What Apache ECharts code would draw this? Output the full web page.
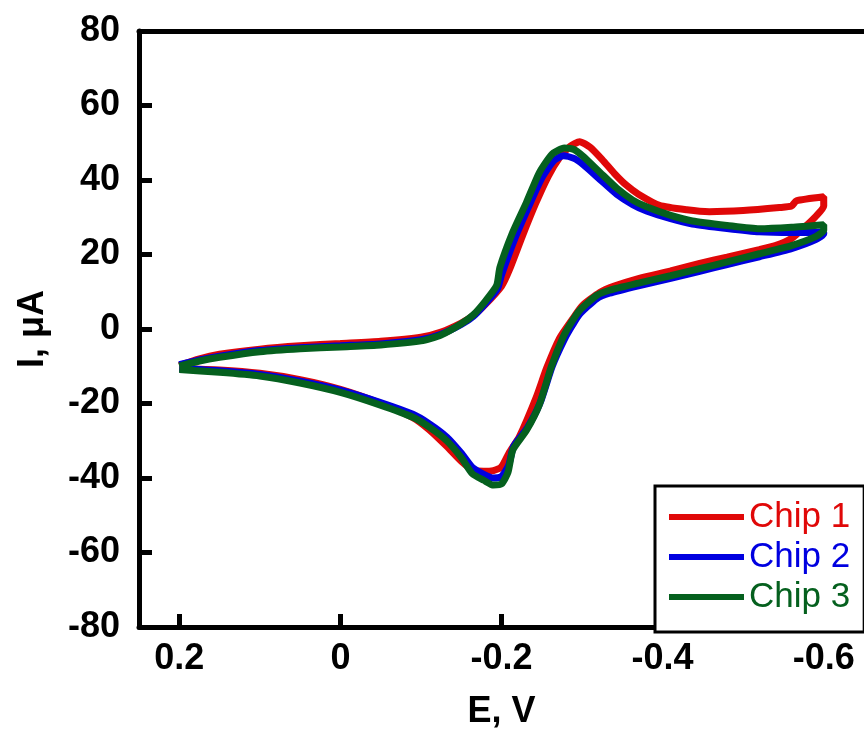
<!DOCTYPE html>
<html>
<head>
<meta charset="utf-8">
<title>CV chips</title>
<script src="https://cdn.jsdelivr.net/npm/echarts@6/dist/echarts.min.js"></script>
<style>
  html, body { margin: 0; padding: 0; background: #fff; }
  #chart { width: 864px; height: 735px; }
</style>
</head>
<body>
<div id="chart"></div>
<script>
  // [E (V), I (uA)] for one full scan: 0.2 -> -0.6 -> 0.2
  const chip1 = [
    [0.2, -9.8], [0.175, -8.0], [0.15, -6.8], [0.1, -5.4], [0.05, -4.5], [0, -3.9], [-0.05, -3.3],
    [-0.1, -2.2], [-0.125, -0.8], [-0.15, 1.6], [-0.165, 3.6], [-0.18, 6.6], [-0.2, 11.5], [-0.21, 16],
    [-0.226, 25], [-0.242, 33.5], [-0.258, 41], [-0.272, 46], [-0.285, 49], [-0.297, 50.3], [-0.31, 48.8],
    [-0.325, 45.5], [-0.34, 41.8], [-0.355, 38.6], [-0.37, 36.2], [-0.396, 33.2], [-0.43, 32.0],
    [-0.458, 31.5], [-0.5, 31.8], [-0.545, 32.6], [-0.56, 33.0], [-0.566, 34.4], [-0.6, 35.5],
    [-0.6, 33], [-0.59, 30.2], [-0.578, 27.7], [-0.56, 24.3], [-0.54, 22.4], [-0.52, 21.3], [-0.48, 19.3],
    [-0.446, 17.6], [-0.41, 15.6], [-0.371, 13.6], [-0.34, 11.5], [-0.322, 9.8], [-0.3, 6.2], [-0.288, 2.6],
    [-0.272, -2.5], [-0.256, -10.5], [-0.243, -18.4], [-0.222, -29], [-0.21, -33], [-0.2, -37], [-0.19, -38],
    [-0.178, -38.2], [-0.164, -37.8], [-0.15, -35.5], [-0.132, -31.5], [-0.11, -27], [-0.09, -23.8],
    [-0.048, -19.8], [0, -16.2], [0.05, -13.6], [0.1, -11.9], [0.15, -11.0], [0.2, -10.6]
  ]
  const chip2 = [
    [0.2, -9.6], [0.175, -8.3], [0.15, -7.3], [0.1, -5.8], [0.05, -5.0], [0, -4.5], [-0.05, -4.0],
    [-0.1, -2.9], [-0.125, -1.4], [-0.15, 1.2], [-0.165, 3.4], [-0.18, 6.8], [-0.195, 10.8], [-0.2, 14.5],
    [-0.217, 24.5], [-0.234, 33], [-0.25, 40.5], [-0.265, 45.2], [-0.277, 46.5], [-0.29, 45.8], [-0.301, 44.2],
    [-0.322, 40.2], [-0.343, 36.2], [-0.363, 33.4], [-0.38, 31.7], [-0.41, 29.6], [-0.437, 28.2], [-0.48, 27.0],
    [-0.52, 26.1], [-0.56, 25.9], [-0.6, 26.0],
    [-0.6, 25.6], [-0.59, 24.0], [-0.56, 21.6], [-0.52, 19.4], [-0.48, 17.3], [-0.446, 15.5], [-0.41, 13.6],
    [-0.37, 11.6], [-0.334, 9.6], [-0.318, 8.1], [-0.297, 4.0], [-0.288, 1.0], [-0.278, -2.8], [-0.263, -10],
    [-0.248, -19.8], [-0.232, -26.5], [-0.215, -31.5], [-0.209, -36.5], [-0.2, -39.6], [-0.19, -40.0],
    [-0.178, -39.0], [-0.164, -37.2], [-0.15, -33.3], [-0.132, -29.0], [-0.11, -25.4], [-0.09, -22.9],
    [-0.048, -19.6], [0, -16.4], [0.05, -14.0], [0.1, -12.2], [0.15, -11.2], [0.2, -10.6]
  ]
  const chip3 = [
    [0.2, -10.0], [0.175, -8.6], [0.15, -7.6], [0.1, -6.1], [0.05, -5.3], [0, -4.8], [-0.05, -4.3],
    [-0.1, -3.2], [-0.125, -1.6], [-0.15, 1.4], [-0.165, 3.8], [-0.18, 7.5], [-0.194, 11.7], [-0.198, 16.5],
    [-0.214, 26], [-0.231, 34], [-0.247, 42], [-0.263, 47], [-0.278, 48.6], [-0.29, 48.2], [-0.301, 46.4],
    [-0.322, 42.1], [-0.343, 37.8], [-0.363, 34.6], [-0.38, 32.8], [-0.41, 30.5], [-0.437, 29.0], [-0.48, 27.8],
    [-0.52, 26.9], [-0.56, 27.3], [-0.6, 28.0],
    [-0.6, 26.5], [-0.59, 24.8], [-0.56, 22.4], [-0.52, 20.2], [-0.48, 18.0], [-0.446, 16.2], [-0.41, 14.3],
    [-0.37, 12.3], [-0.334, 10.4], [-0.318, 9.0], [-0.297, 5.0], [-0.286, 1.5], [-0.276, -2.4], [-0.262, -10],
    [-0.247, -20.3], [-0.231, -27.2], [-0.214, -32.5], [-0.208, -38.5], [-0.2, -41.6], [-0.19, -41.9],
    [-0.178, -40.6], [-0.164, -38.9], [-0.15, -34.5], [-0.132, -30.0], [-0.11, -26.3], [-0.09, -23.7],
    [-0.048, -20.3], [0, -17.0], [0.05, -14.5], [0.1, -12.6], [0.15, -11.6], [0.2, -10.9]
  ]

  const seriesNames = ['Chip 1', 'Chip 2', 'Chip 3']
  const seriesColors = ['#e00808', '#0000e0', '#05601e']
  const xTicks = [-0.6, -0.4, -0.2, 0, 0.2]

  const fontFamily = '"Liberation Sans", Arial, sans-serif'
  const axisLine = { show: true, onZero: false, lineStyle: { color: '#000', width: 5 } }
  const axisTick = { show: true, inside: true, length: 13, lineStyle: { color: '#000', width: 5 } }
  const labelStyle = { color: '#000', fontSize: 36, fontWeight: 'bold', fontFamily }
  const nameStyle = { color: '#000', fontSize: 36, fontWeight: 'bold', fontFamily, lineHeight: 36 }

  const chart = echarts.init(document.getElementById('chart'))
  chart.setOption({
    animation: false,
    backgroundColor: '#fff',
    grid: { left: 139, right: 0, top: 31, bottom: 103, containLabel: false },
    legend: {
      orient: 'vertical',
      left: 655,
      top: 486,
      icon: 'rect',
      itemWidth: 75,
      itemHeight: 6,
      itemGap: 0,
      padding: [11, 14, 15, 14],
      borderColor: '#000',
      borderWidth: 3,
      backgroundColor: '#fff',
      itemStyle: { borderWidth: 0 },
      textStyle: { fontSize: 35, lineHeight: 40, fontFamily },
      data: seriesNames.map((n, i) => ({ name: n, textStyle: { color: seriesColors[i] } }))
    },
    xAxis: [{
      type: 'value',
      min: -0.65,
      max: 0.25,
      inverse: true,
      name: 'E, V',
      nameLocation: 'middle',
      nameGap: 67,
      nameTextStyle: nameStyle,
      axisLine,
      axisTick: Object.assign({ customValues: xTicks }, axisTick),
      axisLabel: Object.assign({ customValues: xTicks, margin: 14 }, labelStyle),
      splitLine: { show: false }
    }, {
      type: 'value',
      position: 'top',
      min: -0.65,
      max: 0.25,
      inverse: true,
      axisLine,
      axisTick: { show: false },
      axisLabel: { show: false },
      splitLine: { show: false }
    }],
    yAxis: {
      type: 'value',
      min: -80,
      max: 80,
      interval: 20,
      name: 'I, μA',
      nameLocation: 'middle',
      nameRotate: 90,
      nameGap: 88,
      nameTextStyle: nameStyle,
      axisLine,
      axisTick,
      axisLabel: Object.assign({ margin: 19 }, labelStyle),
      splitLine: { show: false }
    },
    series: [chip1, chip2, chip3].map((d, i) => ({
      name: seriesNames[i],
      type: 'line',
      data: d,
      symbol: 'none',
      smooth: 0.2,
      color: seriesColors[i],
      lineStyle: { width: 7, color: seriesColors[i] },
      z: 2 + i
    }))
  })
</script>
</body>
</html>
